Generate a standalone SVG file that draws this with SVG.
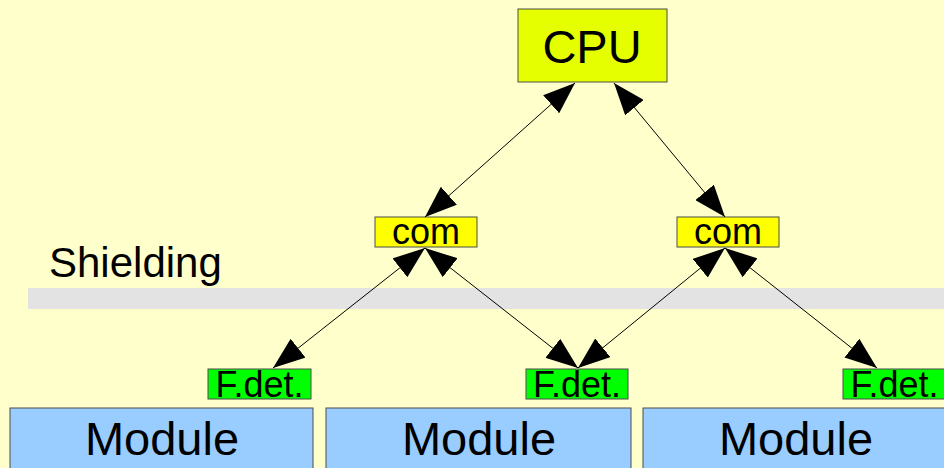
<svg xmlns="http://www.w3.org/2000/svg" width="944" height="468" viewBox="0 0 944 468">
<defs>
<style>
text{font-family:"Liberation Sans",Arial,sans-serif;fill:#000;text-anchor:middle}
.box{stroke:#4d4d4d;stroke-width:1}
.cpu{fill:#e6ff00}
.com{fill:#ffff00}
.fdet{fill:#00ff00}
.mod{fill:#99ccff}
.conn{stroke:#000;stroke-width:1;fill:none;marker-start:url(#ah);marker-end:url(#ah)}
</style>
<marker id="ah" markerUnits="userSpaceOnUse" markerWidth="32" markerHeight="24" viewBox="0 0 32 24" refX="32" refY="12" orient="auto-start-reverse">
<path d="M0,0 L32,12 L0,24 z" fill="#000"/>
</marker>
</defs>
<rect width="944" height="468" fill="#ffffcc"/>
<g id="shielding">
<rect x="28" y="288" width="916" height="21" fill="#e3e3e3"/>
<text x="49" y="277" font-size="42" style="text-anchor:start">Shielding</text>
</g>
<g id="cpu">
<rect class="box cpu" x="518" y="9" width="149" height="73"/>
<text x="592" y="63" font-size="47">CPU</text>
</g>
<g id="com1">
<rect class="box com" x="375" y="217" width="102" height="30"/>
<text x="426" y="244" font-size="36">com</text>
</g>
<g id="com2">
<rect class="box com" x="677" y="217" width="102" height="30"/>
<text x="728" y="244" font-size="36">com</text>
</g>
<g id="module1">
<rect class="box mod" x="10" y="408" width="303" height="70"/>
<text x="162" y="455" font-size="47">Module</text>
</g>
<g id="module2">
<rect class="box mod" x="326" y="408" width="305" height="70"/>
<text x="479" y="455" font-size="47">Module</text>
</g>
<g id="module3">
<rect class="box mod" x="643" y="408" width="305" height="70"/>
<text x="796" y="455" font-size="47">Module</text>
</g>
<g id="fdet1">
<rect class="box fdet" x="208" y="369" width="103" height="30"/>
<text x="259.5" y="397" font-size="36">F.det.</text>
</g>
<g id="fdet2">
<rect class="box fdet" x="526" y="369" width="102" height="30"/>
<text x="577" y="397" font-size="36">F.det.</text>
</g>
<g id="fdet3">
<rect class="box fdet" x="843" y="369" width="103" height="30"/>
<text x="894.5" y="397" font-size="36">F.det.</text>
</g>
<g id="connectors">
<line class="conn" x1="575" y1="83" x2="425" y2="217"/>
<line class="conn" x1="614" y1="83" x2="725" y2="217"/>
<line class="conn" x1="425" y1="248" x2="273" y2="368"/>
<line class="conn" x1="425" y1="248" x2="578" y2="368"/>
<line class="conn" x1="725" y1="248" x2="578" y2="368"/>
<line class="conn" x1="725" y1="248" x2="877" y2="368"/>
</g>
</svg>
